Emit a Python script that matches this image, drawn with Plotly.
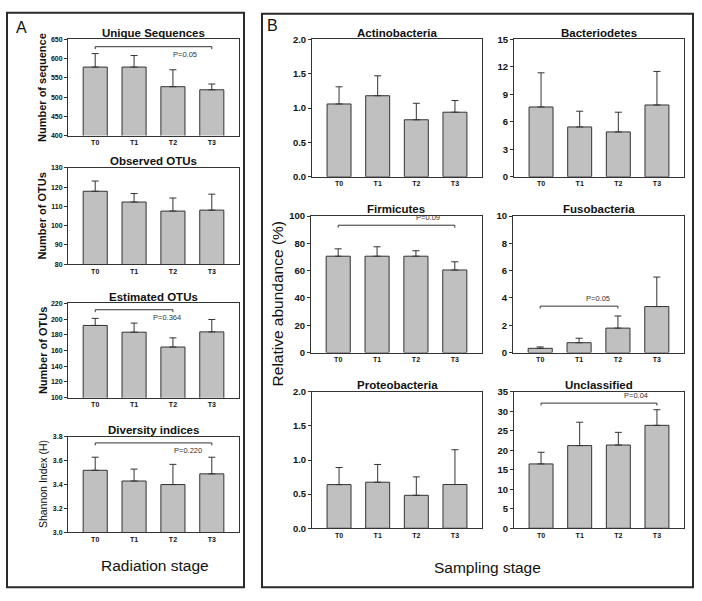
import plotly.graph_objects as go

W, H = 702, 601
cats = ["T0", "T1", "T2", "T3"]

# Panel A (radiation stage)
unique_seq = [578, 578, 527, 519]
unique_seq_err = [35, 30, 44, 15]
observed_otus = [117.9, 112.3, 107.6, 108.1]
observed_otus_err = [5.3, 4.4, 6.8, 8.3]
estimated_otus = [192, 183.4, 164.5, 183.8]
estimated_otus_err = [9, 11.6, 11.7, 15.8]
shannon = [3.52, 3.43, 3.40, 3.49]
shannon_err = [0.11, 0.10, 0.17, 0.14]

# Panel B (sampling stage), relative abundance %
actino = [1.06, 1.18, 0.83, 0.94]
actino_err = [0.25, 0.29, 0.24, 0.17]
bacterio = [7.62, 5.44, 4.90, 7.84]
bacterio_err = [3.73, 1.72, 2.15, 3.66]
firmic = [70.6, 70.6, 70.6, 60.5]
firmic_err = [5.4, 6.9, 4.0, 6.0]
fuso = [0.31, 0.72, 1.79, 3.37]
fuso_err = [0.10, 0.33, 0.89, 2.16]
proteo = [0.64, 0.675, 0.483, 0.641]
proteo_err = [0.25, 0.26, 0.27, 0.51]
unclass = [16.5, 21.2, 21.35, 26.4]
unclass_err = [3.0, 6.0, 3.25, 4.0]

titles = ["Unique Sequences", "Observed OTUs", "Estimated OTUs", "Diversity indices",
          "Actinobacteria", "Bacteriodetes", "Firmicutes", "Fusobacteria",
          "Proteobacteria", "Unclassified"]
values = [unique_seq, observed_otus, estimated_otus, shannon,
          actino, bacterio, firmic, fuso, proteo, unclass]
errors = [unique_seq_err, observed_otus_err, estimated_otus_err, shannon_err,
          actino_err, bacterio_err, firmic_err, fuso_err, proteo_err, unclass_err]
y_ranges = [(400, 650), (80, 130), (100, 220), (3.0, 3.8),
            (0, 2), (0, 15), (0, 100), (0, 10), (0, 2), (0, 35)]
y_dticks = [50, 10, 20, 0.2, 0.5, 3, 20, 2, 0.5, 5]
y_formats = ["d", "d", "d", ".1f", ".1f", "d", "d", "d", ".1f", "d"]

# brackets: (subplot index, start cat, end cat, level, text, above?, text x)
brackets = [
    (0, 0, 3, 631, "P=0.05", False, 2.3),
    (2, 0, 2, 212, "P=0.364", False, 1.85),
    (3, 0, 3, 3.75, "P=0.220", False, 2.39),
    (6, 0, 3, 93.3, "P=0.09", True, 2.31),
    (7, 0, 2, 3.4, "P=0.05", True, 1.49),
    (9, 0, 3, 32.1, "P=0.04", True, 2.46),
]

# pixel boxes of plotting areas (x0, x1, y0, y1)
boxes = [
    (68, 239, 34, 132), (68, 239, 165, 263), (68, 239, 303, 399), (68, 239, 439, 536),
    (312, 482, 34, 174), (514, 684, 34, 174),
    (311, 482, 214, 353), (513, 684, 214, 353),
    (312, 482, 393, 532), (514, 684, 393, 532),
]

FONT = "Liberation Sans, Arial, sans-serif"
LINE = "#333333"

fig = go.Figure()
layout = dict(width=W, height=H, margin=dict(l=0, r=0, t=0, b=0),
              paper_bgcolor="white", plot_bgcolor="white", showlegend=False,
              font=dict(family=FONT, color="#111"))
annotations = []
shapes = []

for i in range(10):
    n = "" if i == 0 else str(i + 1)
    x0, x1, y0, y1 = boxes[i]
    small = i < 4
    fig.add_trace(go.Bar(
        x=cats, y=values[i], xaxis="x" + n, yaxis="y" + n, width=0.62,
        marker=dict(color="#c0c0c0", line=dict(color=LINE, width=1)),
        error_y=dict(type="data", array=errors[i], arrayminus=[0] * 4, symmetric=False,
                     color=LINE, thickness=1, width=3.5),
    ))
    layout["xaxis" + n] = dict(
        domain=[x0 / W, x1 / W], anchor="y" + n, type="category", range=[-0.7, 3.7],
        showline=True, linecolor=LINE, linewidth=1, mirror=True, ticks="",
        showgrid=False, zeroline=False,
        tickfont=dict(size=7, family=FONT, weight="bold", color="#111"),
    )
    layout["yaxis" + n] = dict(
        domain=[1 - y1 / H, 1 - y0 / H], anchor="x" + n, range=list(y_ranges[i]),
        dtick=y_dticks[i], tick0=y_ranges[i][0], tickformat=y_formats[i],
        showline=True, linecolor=LINE, linewidth=1, mirror=True,
        ticks="outside", ticklen=3, tickcolor=LINE, showgrid=False, zeroline=False,
        tickfont=dict(size=7 if small else 9.5, family=FONT, weight="bold", color="#111"),
    )
    annotations.append(dict(
        text=titles[i], x=(x0 + x1) / 2 / W, y=1 - (y0 - 7) / H, xref="paper", yref="paper",
        xanchor="center", yanchor="middle", showarrow=False,
        font=dict(size=11.5, family=FONT, weight="bold", color="#111"),
    ))

for (i, s, e, lvl, txt, above, tx) in brackets:
    n = "" if i == 0 else str(i + 1)
    x0, x1, y0, y1 = boxes[i]
    lo, hi = y_ranges[i]
    tick = (hi - lo) * 2.5 / (y1 - y0)
    xr, yr = "x" + n, "y" + n
    shapes.append(dict(type="path", xref=xr, yref=yr,
                       path=f"M {s},{lvl - tick} L {s},{lvl} L {e},{lvl} L {e},{lvl - tick}",
                       line=dict(color=LINE, width=1)))
    annotations.append(dict(
        text=txt, x=tx, y=lvl, xref=xr, yref=yr, showarrow=False,
        xanchor="center", yanchor="bottom" if above else "top",
        yshift=1 if above else -1,
        font=dict(size=7.5, family=FONT, color="#333"),
    ))

# y-axis titles of panel A
ylabels_a = ["Number of sequence", "Number of OTUs", "Number of OTUs", "Shannon Index (H)"]
for i, lab in enumerate(ylabels_a):
    x0, x1, y0, y1 = boxes[i]
    annotations.append(dict(
        text=lab, x=42.5 / W, y=1 - (y0 + y1) / 2 / H, xref="paper", yref="paper",
        textangle=-90, showarrow=False, xanchor="center", yanchor="middle",
        font=dict(size=11 if i < 3 else 10.5, family=FONT,
                  weight="bold" if i < 3 else "normal", color="#111"),
    ))

annotations += [
    dict(text="Relative abundance (%)", x=277 / W, y=1 - 304 / H, xref="paper", yref="paper",
         textangle=-90, showarrow=False, xanchor="center", yanchor="middle",
         font=dict(size=15.5, family=FONT, color="#111")),
    dict(text="Radiation stage", x=155 / W, y=1 - 570 / H, xref="paper", yref="paper",
         showarrow=False, xanchor="center", yanchor="middle",
         font=dict(size=15.5, family=FONT, color="#111")),
    dict(text="Sampling stage", x=487 / W, y=1 - 572 / H, xref="paper", yref="paper",
         showarrow=False, xanchor="center", yanchor="middle",
         font=dict(size=15.5, family=FONT, color="#111")),
    dict(text="A", x=21 / W, y=1 - 22 / H, xref="paper", yref="paper",
         showarrow=False, xanchor="center", yanchor="middle",
         font=dict(size=16, family=FONT, color="#111")),
    dict(text="B", x=272 / W, y=1 - 20 / H, xref="paper", yref="paper",
         showarrow=False, xanchor="center", yanchor="middle",
         font=dict(size=16, family=FONT, color="#111")),
]

shapes += [
    dict(type="rect", xref="paper", yref="paper", x0=7 / W, x1=244 / W,
         y0=1 - 592 / H, y1=1 - 7 / H, line=dict(color="#2a2a2a", width=2)),
    dict(type="rect", xref="paper", yref="paper", x0=262 / W, x1=693 / W,
         y0=1 - 592 / H, y1=1 - 8 / H, line=dict(color="#2a2a2a", width=2)),
]

layout["annotations"] = annotations
layout["shapes"] = shapes
fig.update_layout(**layout)
fig.write_html("out.html", config={"displayModeBar": False},
               post_script="document.body.style.margin='0';document.body.style.padding='0';")
